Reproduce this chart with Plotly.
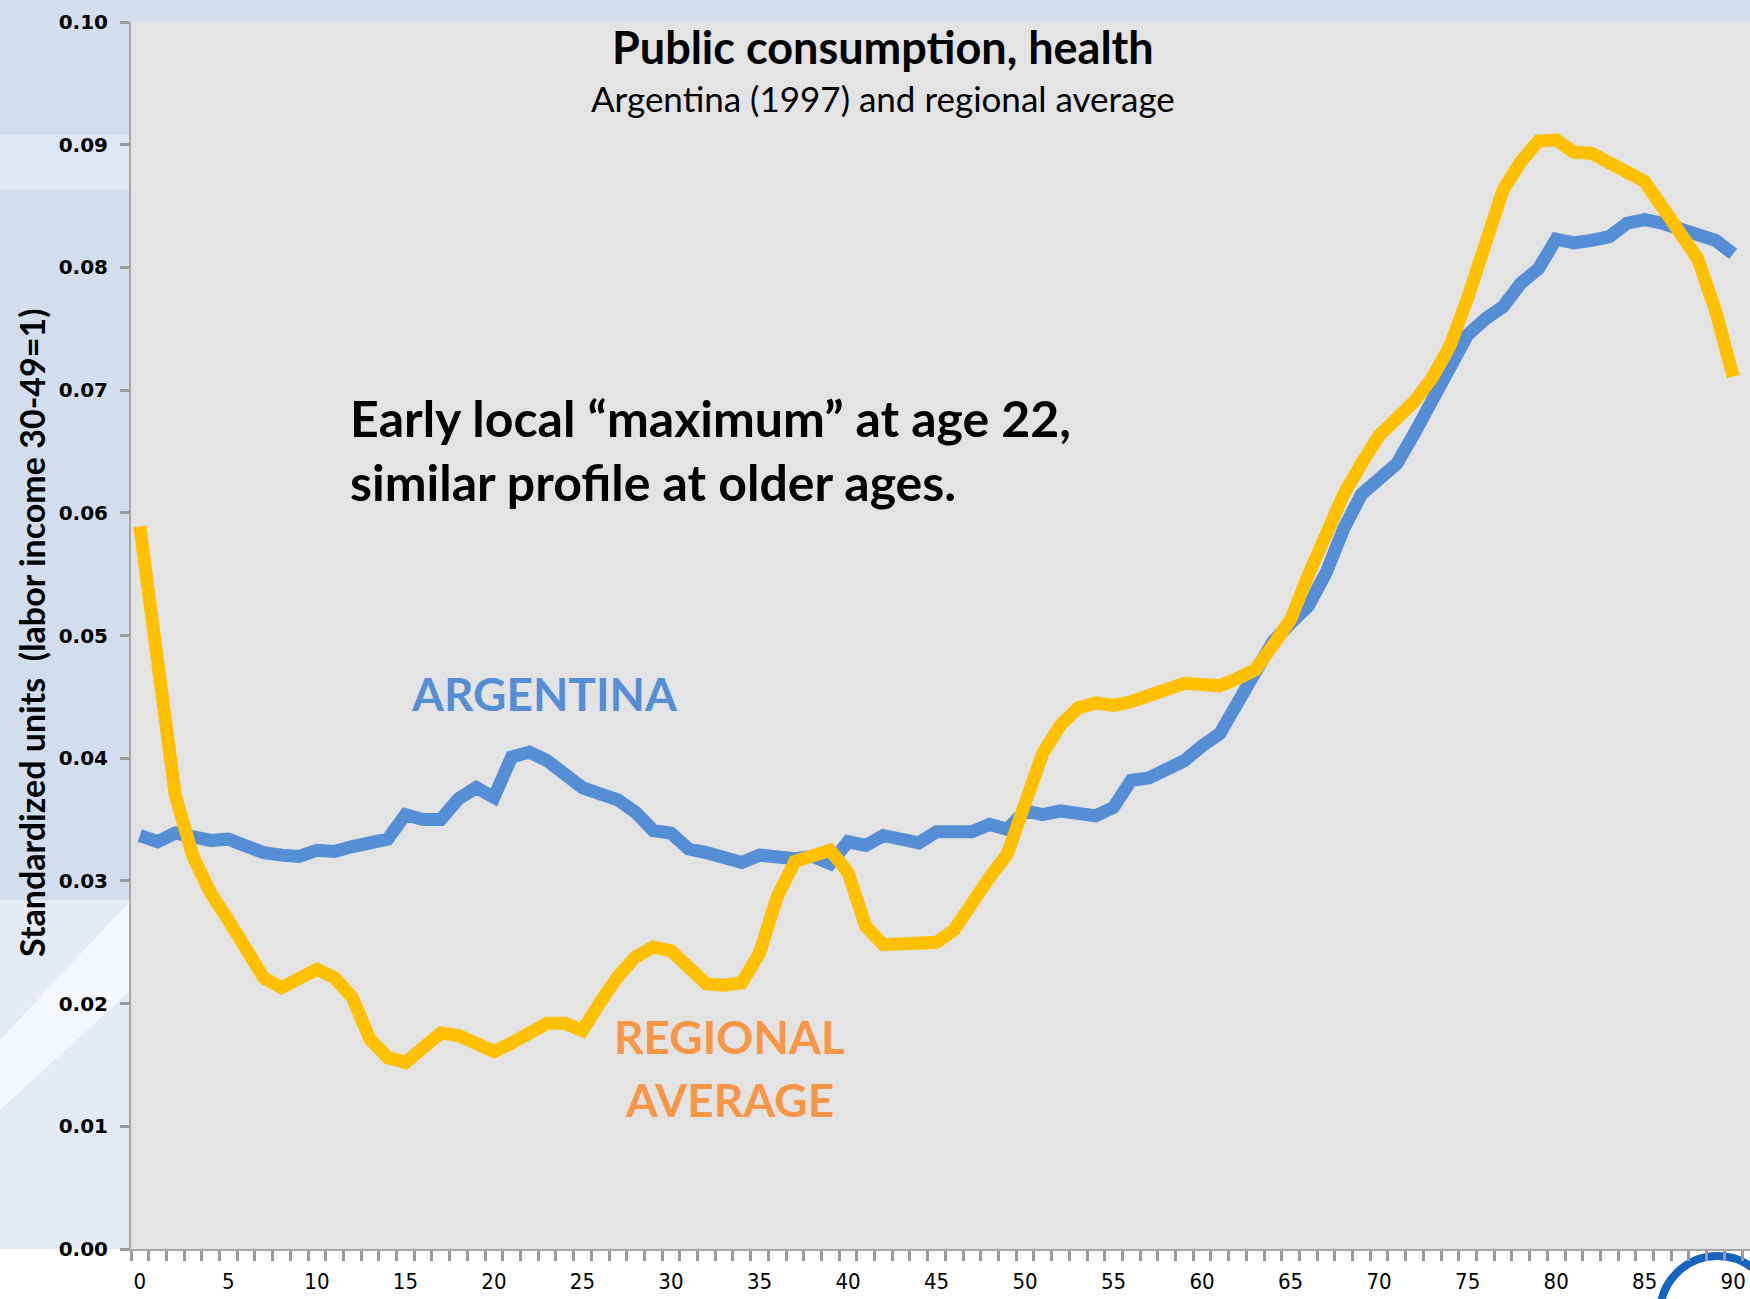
import plotly.graph_objects as go

ages = list(range(0, 91))

argentina = [
    0.0337, 0.0332, 0.0339, 0.0335, 0.0333, 0.0334, 0.0328, 0.0323, 0.0321, 0.0320,
    0.0325, 0.0324, 0.0328, 0.0332, 0.0334, 0.0354, 0.0350, 0.0350, 0.0367, 0.0376,
    0.0368, 0.0401, 0.0405, 0.0398, 0.0388, 0.0376, 0.0371, 0.0366, 0.0356, 0.0341,
    0.0339, 0.0326, 0.0323, 0.0318, 0.0315, 0.0321, 0.0320, 0.0318, 0.0320, 0.0314,
    0.0332, 0.0329, 0.0337, 0.0335, 0.0331, 0.0340, 0.0339, 0.0340, 0.0346, 0.0342,
    0.0357, 0.0354, 0.0357, 0.0356, 0.0353, 0.0360, 0.0382, 0.0384, 0.0392, 0.0398,
    0.0410, 0.0420, 0.0445, 0.0468, 0.0495, 0.0510, 0.0524, 0.0551, 0.0587, 0.0615,
    0.0627, 0.0640, 0.0665, 0.0690, 0.0716, 0.0745, 0.0758, 0.0768, 0.0787, 0.0799,
    0.0823, 0.0820, 0.0822, 0.0825, 0.0836, 0.0839, 0.0836, 0.0832, 0.0827, 0.0822,
    0.0811,
]

regional = [
    0.0589, 0.0470, 0.0370, 0.0320, 0.0290, 0.0268, 0.0242, 0.0221, 0.0213, 0.0221,
    0.0228, 0.0221, 0.0205, 0.0171, 0.0156, 0.0152, 0.0165, 0.0176, 0.0174, 0.0168,
    0.0161, 0.0168, 0.0176, 0.0184, 0.0184, 0.0178, 0.0201, 0.0222, 0.0238, 0.0246,
    0.0243, 0.0230, 0.0216, 0.0215, 0.0217, 0.0241, 0.0287, 0.0316, 0.0321, 0.0325,
    0.0307, 0.0263, 0.0248, 0.0249, 0.0249, 0.0250, 0.0260, 0.0284, 0.0303, 0.0322,
    0.0363, 0.0404, 0.0427, 0.0441, 0.0445, 0.0443, 0.0446, 0.0451, 0.0458, 0.0461,
    0.0460, 0.0459, 0.0465, 0.0472, 0.0492, 0.0513, 0.0549, 0.0585, 0.0615, 0.0640,
    0.0663, 0.0677, 0.0691, 0.0710, 0.0736, 0.0775, 0.0822, 0.0863, 0.0886, 0.0903,
    0.0904, 0.0894, 0.0893, 0.0886, 0.0879, 0.0870, 0.0849, 0.0829, 0.0807, 0.0765,
    0.0711,
]

x_tick_vals = list(range(0, 91, 5))
x_tick_text = [str(v) for v in x_tick_vals]
y_tick_vals = [i / 100 for i in range(0, 11)]
y_tick_text = ["%.2f" % v for v in y_tick_vals]

W, H = 1750, 1299
L, R, T, B = 131, 0, 22, 50
PW, PH = W - L - R, H - T - B


def px(x):
    return (x - L) / PW


def py(y):
    return (H - B - y) / PH


fig = go.Figure()
fig.add_trace(go.Scatter(x=ages, y=argentina, mode="lines",
                         line=dict(color="#558ED5", width=13), name="Argentina",
                         showlegend=False))
fig.add_trace(go.Scatter(x=ages, y=regional, mode="lines",
                         line=dict(color="#FFC000", width=13), name="Regional average",
                         showlegend=False))

shapes = [
    # white strip below the x axis
    dict(type="rect", xref="paper", yref="paper", x0=px(0), x1=px(W + 5), y0=py(H + 5), y1=py(H - B),
         fillcolor="white", line=dict(width=0), layer="below"),
    # lighter lower part of the left column
    dict(type="rect", xref="paper", yref="paper", x0=px(0), x1=px(L), y0=py(H - B), y1=py(900),
         fillcolor="#E4EBF5", line=dict(width=0), layer="below"),
    # light swoosh in the left column
    dict(type="path", xref="paper", yref="paper",
         path="M %f,%f L %f,%f L %f,%f L %f,%f Z" % (px(0), py(1040), px(L), py(900), px(L), py(990), px(0), py(1110)),
         fillcolor="#F4F7FB", line=dict(width=0), layer="below"),
    dict(type="rect", xref="paper", yref="paper", x0=px(0), x1=px(L), y0=py(190), y1=py(135),
         fillcolor="#DDE7F4", line=dict(width=0), layer="below"),
    # logo ring at the bottom right
    dict(type="circle", xref="paper", yref="paper", x0=px(1660), x1=px(1775), y0=py(1256), y1=py(1371),
         fillcolor="rgba(0,0,0,0)", line=dict(color="#1565C0", width=8), layer="below"),
]

annotations = [
    dict(text="<b>Public consumption, health</b>", x=px(883), y=py(47), xref="paper", yref="paper",
         showarrow=False, xanchor="center", yanchor="middle",
         font=dict(family="Lato", size=45, color="black")),
    dict(text="Argentina (1997) and regional average", x=px(883), y=py(98), xref="paper", yref="paper",
         showarrow=False, xanchor="center", yanchor="middle",
         font=dict(family="Lato", size=35, color="black")),
    dict(text="<b>Early local “maximum” at age 22,</b>", x=px(348), y=py(418), xref="paper", yref="paper",
         showarrow=False, xanchor="left", yanchor="middle",
         font=dict(family="Lato", size=50, color="black")),
    dict(text="<b>similar profile at older ages.</b>", x=px(348), y=py(482), xref="paper", yref="paper",
         showarrow=False, xanchor="left", yanchor="middle",
         font=dict(family="Lato", size=50, color="black")),
    dict(text="<b>ARGENTINA</b>", x=px(544), y=py(693), xref="paper", yref="paper",
         showarrow=False, xanchor="center", yanchor="middle",
         font=dict(family="Lato", size=46, color="#558ED5")),
    dict(text="<b>REGIONAL</b>", x=px(729), y=py(1036), xref="paper", yref="paper",
         showarrow=False, xanchor="center", yanchor="middle",
         font=dict(family="Lato", size=46, color="#F79646")),
    dict(text="<b>AVERAGE</b>", x=px(729), y=py(1099), xref="paper", yref="paper",
         showarrow=False, xanchor="center", yanchor="middle",
         font=dict(family="Lato", size=46, color="#F79646")),
    dict(text="<b>Standardized units  (labor income 30-49=1)</b>", x=px(31), y=py(633),
         xref="paper", yref="paper", showarrow=False, textangle=-90,
         xanchor="center", yanchor="middle",
         font=dict(family="Lato", size=34, color="black")),
]

fig.update_layout(
    width=W, height=H,
    margin=dict(l=L, r=R, t=T, b=B, pad=0, autoexpand=False),
    paper_bgcolor="#D2DEEE",
    plot_bgcolor="#E3E3E3",
    shapes=shapes,
    annotations=annotations,
    showlegend=False,
)

fig.update_xaxes(
    range=[-0.5, 90.95],
    tickvals=x_tick_vals, ticktext=x_tick_text,
    ticks="", showgrid=False, zeroline=False,
    showline=True, linecolor="#A6A6A6", linewidth=2,
    tickfont=dict(family="DejaVu Sans Condensed, DejaVu Sans", size=22, color="black"),
    ticklabelstandoff=12,
    ticklabeloverflow="allow",
    minor=dict(tick0=-0.5, dtick=1, ticks="outside", ticklen=10, tickwidth=3,
               tickcolor="#999999", showgrid=False),
)

fig.update_yaxes(
    range=[0, 0.1],
    tickvals=y_tick_vals, ticktext=["<b>%s</b>" % t for t in y_tick_text],
    ticks="outside", ticklen=9, tickwidth=3, tickcolor="#999999",
    showgrid=False, zeroline=False,
    showline=True, linecolor="#A6A6A6", linewidth=2,
    tickfont=dict(family="DejaVu Sans", size=20, color="black"),
    ticklabelstandoff=8,
)

fig.write_html("out.html", config={"displayModeBar": False},
               post_script="document.body.style.margin='0px';")
